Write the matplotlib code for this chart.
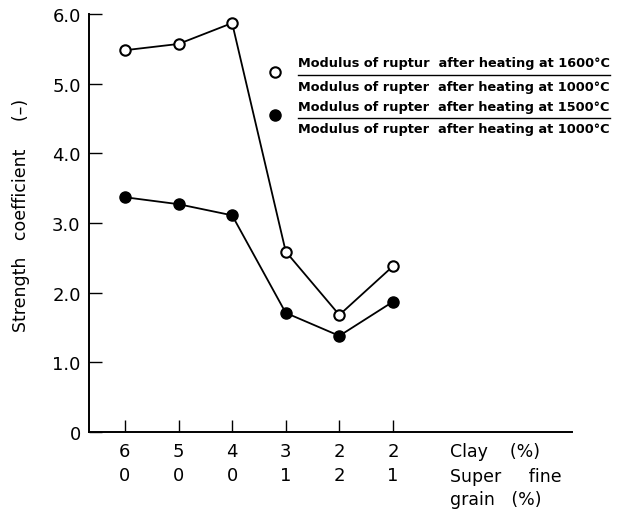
import matplotlib
matplotlib.use("Agg")
import matplotlib.pyplot as plt
from matplotlib.lines import Line2D

# data
clay = ["6", "5", "4", "3", "2", "2"]
fine_grain = ["0", "0", "0", "1", "2", "1"]
coef_1600 = [5.48, 5.57, 5.87, 2.59, 1.68, 2.38]   # open circles
coef_1500 = [3.37, 3.27, 3.11, 1.71, 1.38, 1.87]   # filled circles
yticks = [0, 1, 2, 3, 4, 5, 6]
yticklabels = ["0", "1.0", "2.0", "3.0", "4.0", "5.0", "6.0"]

plt.rcParams['font.family'] = ['DejaVu Sans']
W, H = 621, 510
fig = plt.figure(figsize=(W / 100, H / 100), dpi=100)
ax = fig.add_axes([89 / W, 1 - 433 / H, (572 - 89) / W, (433 - 15) / H])

xpos = list(range(len(clay)))
ax.plot(xpos, coef_1600, 'k-', lw=1.3, marker='o', ms=7.5, mfc='white', mec='black', mew=1.5)
ax.plot(xpos, coef_1500, 'k-', lw=1.3, marker='o', ms=8, mfc='black', mec='black')

ax.set_xlim(-0.67, 8.34)
ax.set_ylim(0, 6)
ax.spines['top'].set_visible(False)
ax.spines['right'].set_visible(False)
for s in ('left', 'bottom'):
    ax.spines[s].set_linewidth(1.4)

ax.set_yticks(yticks)
ax.set_yticklabels(yticklabels, fontsize=13)
ax.set_xticks(xpos)
ax.set_xticklabels([c + "\n" + f for c, f in zip(clay, fine_grain)], fontsize=13, linespacing=1.45)
ax.tick_params(axis='both', direction='in', length=9, width=1.0)
ax.tick_params(axis='y', pad=6)
ax.tick_params(axis='x', pad=7)

ax.set_ylabel("Strength   coefficient     (\u2013)", fontsize=12.5)
ax.yaxis.set_label_coords(-0.122, 0.52)

# labels of the two x rows
fig.text(450 / W, 1 - 452 / H, "Clay    (%)", fontsize=12.5, va='center', ha='left')
fig.text(450 / W, 1 - 477 / H, "Super     fine", fontsize=12.5, va='center', ha='left')
fig.text(450 / W, 1 - 500 / H, "grain   (%)", fontsize=12.5, va='center', ha='left')

# legend as fractions
ax.plot([275 / W], [1 - 73 / H], 'o', ms=7.5, mfc='white', mec='black', mew=1.5,
        transform=fig.transFigure, clip_on=False)
ax.plot([275 / W], [1 - 116 / H], 'o', ms=8, mfc='black', mec='black',
        transform=fig.transFigure, clip_on=False)
lines = [("Modulus of ruptur  after heating at 1600\u00b0C", 64),
         ("Modulus of rupter  after heating at 1000\u00b0C", 87),
         ("Modulus of rupter  after heating at 1500\u00b0C", 107),
         ("Modulus of rupter  after heating at 1000\u00b0C", 130)]
for txt, yp in lines:
    fig.text(298 / W, 1 - yp / H, txt, fontsize=9.3, fontweight='bold', va='center', ha='left')
for yp in (76, 119):
    fig.add_artist(Line2D([298 / W, 610 / W], [1 - yp / H, 1 - yp / H], color='black', lw=1.0,
                          transform=fig.transFigure))

fig.savefig("out.png", dpi=100)
